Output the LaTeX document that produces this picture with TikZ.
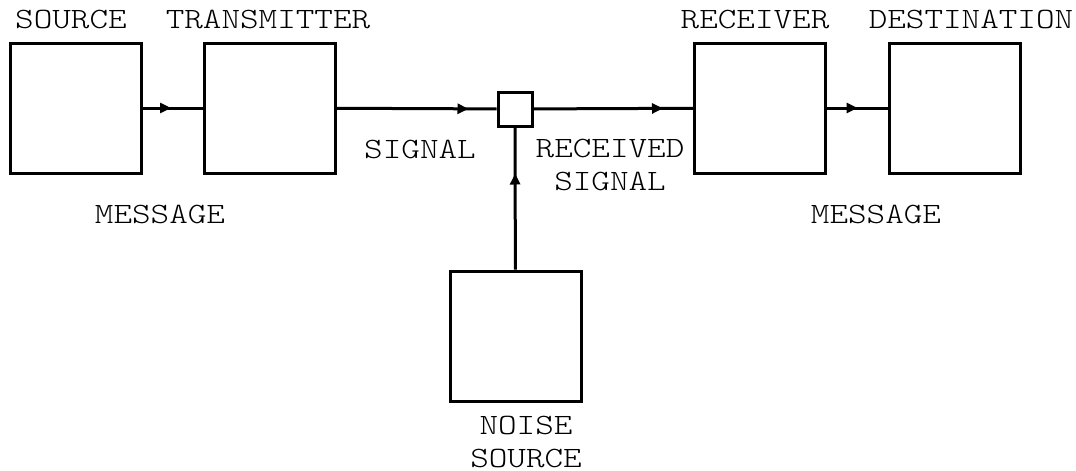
\documentclass[tikz,border=0pt]{standalone}
\usepackage{fontspec}
\newfontfamily\labelfont{lmmonolt10-regular.otf}[FakeStretch=1.2]
\usetikzlibrary{arrows.meta,decorations.markings}
\tikzset{
  block/.style={draw,line width=1.5pt,minimum width=65.5pt,minimum height=65pt,inner sep=0pt},
  junction/.style={draw,line width=1.5pt,minimum width=17pt,minimum height=17pt,inner sep=0pt},
  caption/.style={font=\labelfont\fontsize{14.75}{16.5}\selectfont,align=center,inner sep=0pt},
  flow/.style={line width=1.5pt,postaction={decorate},
    decoration={markings,mark=at position #1 with {\arrow{Triangle[length=5.5pt,width=5pt]}}}}
}
\begin{document}
\begin{tikzpicture}[x=0.5pt,y=-0.5pt]
  \useasboundingbox (0,0) rectangle (1076,471);
  \node[block] (src) at (76,108) {};
  \node[block] (tx) at (270,108) {};
  \node[junction] (mix) at (515,109) {};
  \node[block] (rx) at (760,108) {};
  \node[block] (dst) at (954.5,108) {};
  \node[block] (noise) at (515.5,336) {};
  \draw[flow=-16pt] (src) -- (tx);
  \draw[flow=-14pt] (tx) -- (mix);
  \draw[flow=-15pt] (mix) -- (rx);
  \draw[flow=-15pt] (rx) -- (dst);
  \draw[flow=-23pt] (noise) -- (mix);
  \node[caption] (srclabel) at (71,19) {SOURCE};
  \node[caption] (txlabel) at (268,19) {TRANSMITTER};
  \node[caption] (rxlabel) at (755,19) {RECEIVER};
  \node[caption] (dstlabel) at (971,19) {DESTINATION};
  \node[caption] (msgin) at (160,214) {MESSAGE};
  \node[caption] (msgout) at (876,214) {MESSAGE};
  \node[caption] (signal) at (420,149) {SIGNAL};
  \node[caption] (received) at (610,165) {RECEIVED\\SIGNAL};
  \node[caption] (noiselabel) at (526,442) {NOISE\\SOURCE};
\end{tikzpicture}
\end{document}
